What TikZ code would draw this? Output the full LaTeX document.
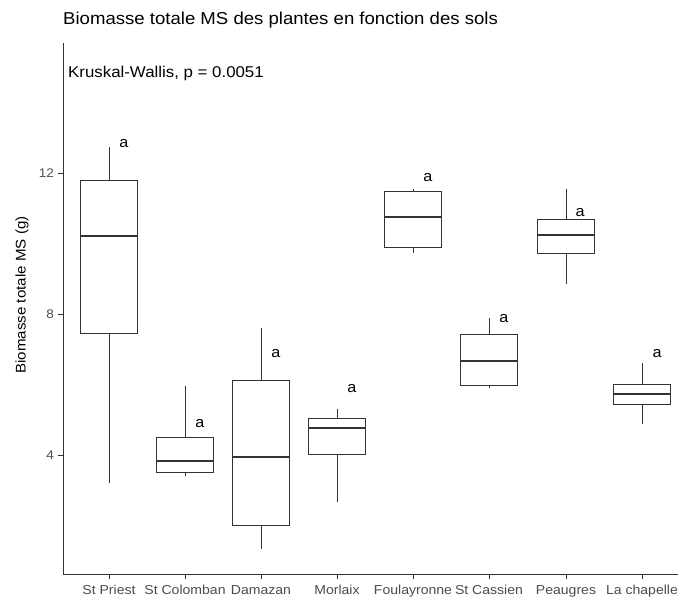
\documentclass[tikz,border=0pt]{standalone}
\usepackage{fontspec}
\setmainfont[FakeStretch=1.08]{Liberation Sans}
\definecolor{boxc}{HTML}{333333}
\definecolor{tickc}{HTML}{4D4D4D}
\tikzset{
  boxln/.style={draw=boxc, line width=0.9pt},
  medln/.style={draw=boxc, line width=2pt},
  axln/.style={draw=boxc, line width=0.9pt},
  ticklab/.style={text=tickc, font=\fontsize{12.5}{14}\selectfont, inner sep=0pt},
  xlab/.style={text=tickc, font=\fontsize{13}{15}\selectfont, inner sep=0pt, anchor=base},
  letter/.style={font=\fontsize{15}{17}\selectfont, inner sep=0pt, anchor=base}
}
% \bxp{name}{x}{whisker top}{q3}{median}{q1}{whisker bottom}{label x}{label y}
\newcommand\bxp[9]{%
  \coordinate (#1wt) at (#2,#3);
  \coordinate (#1q3) at (#2,#4);
  \coordinate (#1q1) at (#2,#6);
  \coordinate (#1wb) at (#2,#7);
  \draw[boxln] (#1wt) -- (#1q3);
  \draw[boxln] (#1q1) -- (#1wb);
  \draw[boxln] ([xshift=-28.5pt]#1q3) rectangle ([xshift=28.5pt]#1q1);
  \draw[medln] (#2-28.5,#5) -- (#2+28.5,#5);
  \node[letter] (#1a) at (#8,#9) {a};
}
\begin{document}
\begin{tikzpicture}[x=1pt,y=-1pt]
\useasboundingbox[fill=white] (0,0) rectangle (678,597);
% title
\node[anchor=base west, inner sep=0pt, font=\fontsize{17.2}{19}\selectfont] (title) at (63,24) {Biomasse totale MS des plantes en fonction des sols};
% axes
\coordinate (otop) at (63,43);
\coordinate (orig) at (63,574);
\coordinate (xend) at (678,574);
\draw[axln] (otop) -- (orig) -- (xend);
\node[anchor=base west, inner sep=0pt, font=\fontsize{15.6}{17}\selectfont] (kw) at (68,77) {Kruskal-Wallis, p = 0.0051};
% y ticks
\foreach \v/\yy in {12/173, 8/314, 4/455}{
  \coordinate (yt\v) at (63,\yy);
  \draw[axln] (yt\v) -- ++(-5,0);
  \node[ticklab, anchor=east] (ytl\v) at (54,\yy) {\v};
}
\node[rotate=90, font=\fontsize{14}{16}\selectfont, inner sep=0pt] (ylab) at (22,295) {Biomasse totale MS (g)};
% x ticks
\foreach \i/\xx/\lab in {1/109/St Priest, 2/185/St Colomban, 3/261/Damazan, 4/337/Morlaix, 5/413/Foulayronne, 6/489/St Cassien, 7/566/Peaugres, 8/642/La chapelle}{
  \coordinate (xt\i) at (\xx,574);
  \draw[axln] (xt\i) -- ++(0,5);
  \node[xlab] (xtl\i) at (\xx,594) {\lab};
}
% boxes
\bxp{b1}{109}{147}{180}{236}{333}{483}{124}{147}
\bxp{b2}{185}{386}{437}{461}{472}{476}{200}{427}
\bxp{b3}{261}{328}{380}{457}{525}{549}{276}{357}
\bxp{b4}{337}{409}{418}{428}{454}{502}{352}{392}
\bxp{b5}{413}{189}{191}{217}{247}{253}{428}{181}
\bxp{b6}{489}{318}{334}{361}{385}{388}{504}{322}
\bxp{b7}{566}{189}{219}{235}{253}{284}{580}{216}
\bxp{b8}{642}{363}{384}{394}{404}{424}{657}{357}
\end{tikzpicture}
\end{document}
